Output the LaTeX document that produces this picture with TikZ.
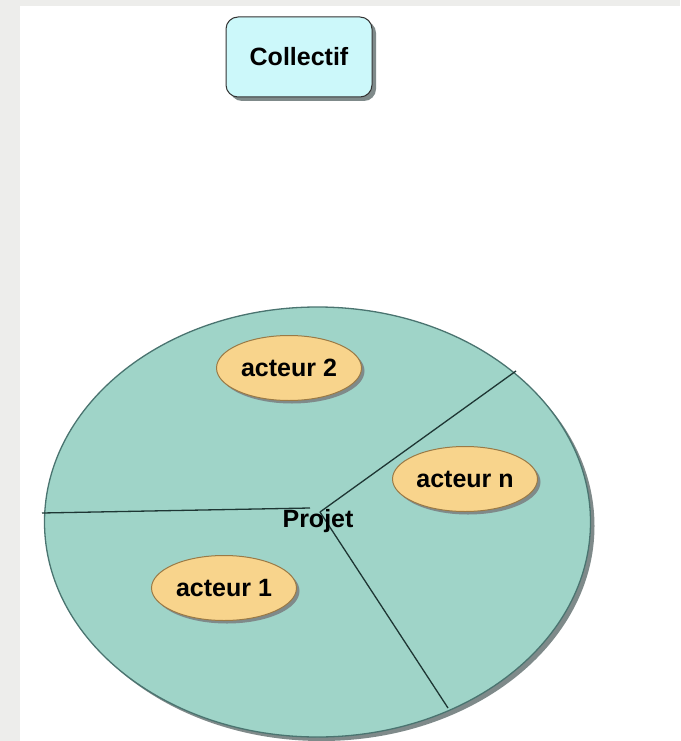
\documentclass[tikz,border=0pt]{standalone}
\usepackage{fontspec}
\setmainfont{Liberation Sans}
\usetikzlibrary{shapes.geometric,shadows}
\definecolor{bggray}{HTML}{EDEDEB}
\definecolor{boxfill}{HTML}{CCF8FA}
\definecolor{tealfill}{HTML}{9FD4C8}
\definecolor{tealline}{HTML}{4A7470}
\definecolor{actfill}{HTML}{F8D48C}
\definecolor{actline}{HTML}{9A7A46}
\definecolor{shade}{HTML}{7F8A8A}
\definecolor{sepline}{HTML}{1E3634}
\tikzset{
  txt/.style={font=\fontsize{25}{28}\selectfont\bfseries, text=black},
  collbox/.style={txt, draw=black!80, line width=1pt, fill=boxfill, rounded corners=12pt,
    minimum width=146pt, minimum height=80pt, inner sep=0pt,
    drop shadow={shadow xshift=4pt, shadow yshift=-4pt, fill=shade, opacity=1}},
  projet/.style={ellipse, draw=tealline, line width=1.3pt, fill=tealfill,
    minimum width=546pt, minimum height=430pt, inner sep=0pt,
    drop shadow={shadow xshift=4pt, shadow yshift=-4pt, fill=shade, opacity=1}},
  acteur/.style={txt, ellipse, draw=actline, line width=1pt, fill=actfill,
    minimum width=145pt, minimum height=65pt, inner sep=0pt,
    drop shadow={shadow xshift=3pt, shadow yshift=-3pt, fill=shade, opacity=1}},
  sep/.style={draw=sepline, line width=1.3pt}
}
\begin{document}
\begin{tikzpicture}[x=1pt,y=-1pt]
\useasboundingbox (0,0) rectangle (680,741);
\fill[bggray] (0,0) rectangle (680,741);
\fill[white] (20,6) rectangle (680,741);

\node[collbox] (coll) at (299,57) {Collectif};

\node[projet] (proj) at (317.5,522) {};

\coordinate (c) at (320,512);
\coordinate (pl) at (42,513);
\coordinate (pr) at (516,371);
\coordinate (pb) at (448,708);
\coordinate (hl) at (310,508);
\draw[sep] (pl) -- (hl);
\draw[sep] (pr) -- (c);
\draw[sep] (c) -- (pb);

\node[txt, inner sep=0pt] (ptxt) at (318,521) {Projet};

\node[acteur] (a2) at (289,368) {acteur 2};
\node[acteur] (an) at (465,479) {acteur n};
\node[acteur] (a1) at (224,588) {acteur 1};
\end{tikzpicture}
\end{document}
